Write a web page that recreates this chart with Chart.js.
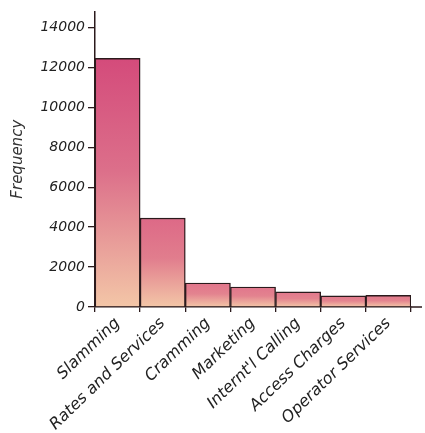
<!DOCTYPE html>
<html>
<head>
<meta charset="utf-8">
<script src="https://cdn.jsdelivr.net/npm/chart.js@4"></script>
<style>
  html, body { margin: 0; padding: 0; background: #fff; }
  #wrap { width: 425px; height: 433px; position: relative; }
</style>
</head>
<body>
<div id="wrap"><canvas id="complaints"></canvas></div>
<script>
  // complaint categories and counts
  const categories = ["Slamming", "Rates and Services", "Cramming", "Marketing",
    "Internt'l Calling", "Access Charges", "Operator Services"];
  const frequency = [12450, 4450, 1200, 1000, 760, 560, 580];
  const yTicks = [0, 2000, 4000, 6000, 8000, 10000, 12000, 14000];
  const yMax = 14800;

  const ink = "#2b1a1c";
  const font = "'DejaVu Sans', sans-serif";

  function mix(a, b, t) {
    const pa = a.match(/\w\w/g).map((h) => parseInt(h, 16));
    const pb = b.match(/\w\w/g).map((h) => parseInt(h, 16));
    return "rgb(" + pa.map((v, i) => Math.round(v + (pb[i] - v) * t)).join(",") + ")";
  }

  function barFill(ctx) {
    const chart = ctx.chart;
    const area = chart.chartArea;
    if (!area || ctx.type !== "data") return "#e48a94";
    const y = chart.scales.y;
    const v = ctx.parsed.y;
    const top = y.getPixelForValue(v);
    const base = y.getPixelForValue(0);
    const g = chart.ctx.createLinearGradient(0, top, 0, base);
    const t = v / Math.max(...frequency);
    g.addColorStop(0, mix("e27a8d", "d44b7b", t));
    g.addColorStop(0.45, mix("e4858f", "dc6f8a", t));
    g.addColorStop(1, "#f3c6a7");
    return g;
  }

  // x axis line runs on past the last bar
  const axisTail = {
    id: "axisTail",
    afterDraw(chart) {
      const { ctx, chartArea } = chart;
      ctx.save();
      ctx.strokeStyle = ink;
      ctx.lineWidth = 1.5;
      ctx.beginPath();
      ctx.moveTo(chartArea.right - 1, chartArea.bottom);
      ctx.lineTo(chartArea.right + 11, chartArea.bottom);
      ctx.stroke();
      ctx.restore();
    },
  };

  new Chart(document.getElementById("complaints"), {
    type: "bar",
    data: {
      labels: categories,
      datasets: [{
        label: "Frequency",
        data: frequency,
        backgroundColor: barFill,
        borderColor: ink,
        borderWidth: 1.4,
        categoryPercentage: 1,
        barPercentage: 1,
      }],
    },
    options: {
      responsive: true,
      maintainAspectRatio: false,
      animation: false,
      layout: { padding: { top: 10, right: 14, left: 0, bottom: 0 } },
      plugins: { legend: { display: false }, tooltip: { enabled: false } },
      scales: {
        x: {
          grid: { display: true, drawOnChartArea: false, color: ink, tickLength: 5, lineWidth: 1.3 },
          border: { color: ink, width: 1.5 },
          ticks: {
            color: "#222",
            font: { family: font, size: 16, style: "italic" },
            maxRotation: 44,
            minRotation: 44,
            autoSkip: false,
            padding: 2,
          },
          afterFit: (s) => { s.height = 126; },
        },
        y: {
          min: 0,
          max: yMax,
          afterBuildTicks: (s) => { s.ticks = yTicks.map((v) => ({ value: v })); },
          grid: { display: true, drawOnChartArea: false, color: ink, tickLength: 7, lineWidth: 1.3 },
          border: { color: ink, width: 1.5 },
          ticks: {
            color: "#222",
            font: { family: font, size: 14, style: "italic" },
            padding: 3,
            callback: (v) => String(v),
          },
          title: {
            display: true,
            text: "Frequency",
            color: "#333",
            font: { family: font, size: 15, style: "italic" },
            padding: { top: 9, bottom: 0 },
          },
          afterFit: (s) => { s.width = 95; },
        },
      },
    },
    plugins: [axisTail],
  });
</script>
</body>
</html>
